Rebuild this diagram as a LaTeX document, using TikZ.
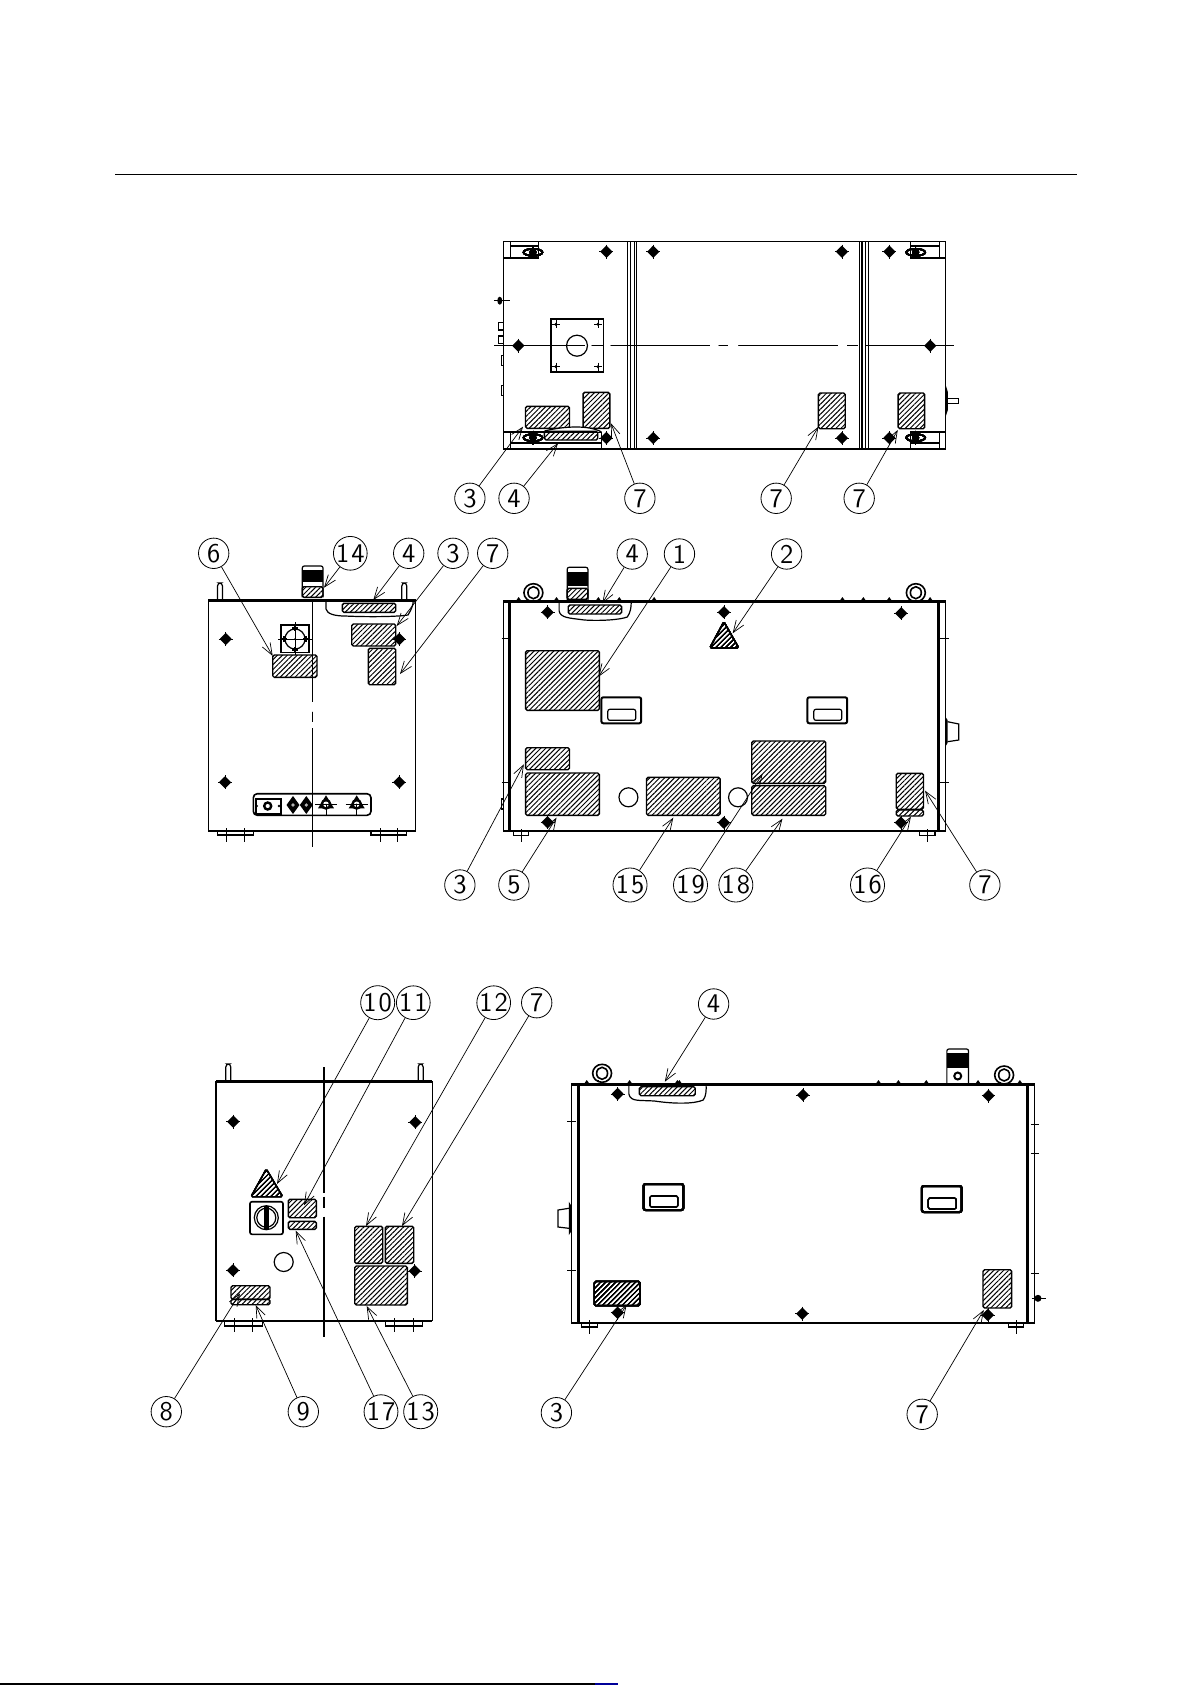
\documentclass[tikz,border=0pt]{standalone}
\usepackage{fontspec}
\usepackage{tikz}
\usetikzlibrary{arrows.meta}
\usetikzlibrary{patterns.meta}
\tikzset{plate/.style = {draw, line width = 0.7pt, rounded corners = 0.8, pattern = {Lines[angle = 45, distance = 1.75pt, line width = 0.5pt]}}}
\tikzset{callout/.style = {draw, circle, line width = 0.4pt, inner sep = 0, minimum size = 15.2,
    font = \sffamily\fontsize{13.5}{13.5}\selectfont\addfontfeature{FakeStretch=1.12}}}
\tikzset{lead/.style = {line width = 0.35pt, -{Straight Barb[length = 6pt, width = 4.5pt]}}}
\tikzset{body/.style = {line width = 0.6pt}}
\tikzset{heavy/.style = {line width = 1.5pt}}
\tikzset{fine/.style = {line width = 0.35pt}}
\newcommand{\hole}[2]{
  \fill [line join = round, draw, line width = 0.7pt] (#1-5.2,#2) -- (#1,#2-5.2) -- (#1+5.2,#2) -- (#1,#2+5.2) -- cycle;
  \draw [fine] (#1-7,#2) -- (#1+7,#2) (#1,#2-7) -- (#1,#2+7);
}
\newcommand{\eyebolt}[2]{
  \draw [line width = 0.8pt] (#1,#2) ellipse (9.5 and 9);
  \draw [line width = 0.8pt] (#1,#2) ellipse (5.5 and 6);
  \draw [fine] (#1-4,#2+7) -- (#1-4,#2+9) (#1+4,#2+7) -- (#1+4,#2+9);
}
\newcommand{\grip}[2]{
  \draw [line width = 1pt, rounded corners = 1] (#1,#2) rectangle ++(40,26);
  \draw [line width = 0.6pt, rounded corners = 1] (#1+6.5,#2+12) rectangle ++(28,11);
}
\newcommand{\eyenut}[2]{
  \draw [line width = 0.8pt] (#1,#2) ellipse (9.5 and 3.5);
  \fill (#1,#2) ellipse (3.5 and 4.5);
  \draw [body] (#1,#2-7) -- (#1,#2+7);
}
\newcommand{\gland}[2]{
  \fill (#1,#2-9) -- (#1+8,#2+4) -- (#1-8,#2+4) -- cycle;
  \fill (#1,#2) circle [radius = 5.5];
  \fill [white] (#1,#2) circle [radius = 2.8];
  \fill (#1,#2) circle [radius = 0.8];
  \draw [fine] (#1-11,#2) -- (#1+11,#2) (#1,#2) -- (#1,#2+11);
}
\newcommand{\valve}[2]{
  \fill (#1,#2-9) -- (#1+6.5,#2) -- (#1,#2+9) -- (#1-6.5,#2) -- cycle;
  \fill [white!70!black] (#1,#2) circle [radius = 1.8];
}
\begin{document}
\begin{tikzpicture}[x=0.5pt, y=-0.5pt]
  \useasboundingbox (0, 0) rectangle (1191, 1685);

  \draw [body] (115, 174.4) -- (1077, 174.4);
  \draw [line width = 0.8pt] (0, 1684) -- (595, 1684);
  \draw [line width = 0.8pt, blue!60!black] (595, 1684) -- (618, 1684);

  % top view
  \begin{scope}[x=0.4982pt, xshift=0.79pt]
  \draw [body] (503.5, 241.7) rectangle (947.5, 449);
  \draw [body] (503.5, 258) -- (539, 258) -- (539, 241.7);
  \draw [body] (511, 241.7) -- (511, 258) (511, 246) -- (539, 246);
  \draw [body] (503.5, 432) -- (602, 432) (511, 432) -- (511, 449);
  \draw [body] (511, 443) -- (602, 443) (602, 432) -- (602, 449);
  \draw [body] (947.5, 258) -- (912, 258) -- (912, 241.7);
  \draw [body] (941, 241.7) -- (941, 258) (941, 246) -- (912, 246);
  \draw [body] (947.5, 432) -- (912, 432) -- (912, 449);
  \draw [body] (941, 432) -- (941, 449) (941, 443) -- (912, 443);
  \foreach \x in {628.4, 631, 635, 637.4, 860.7, 863.5, 867, 869.7}
    \draw [body] (\x, 241.7) -- (\x, 449);
  \foreach \x/\y in {607/251.7, 654/251.7, 843.4/251.7, 891/251.7, 518.6/345.7, 932/345.7, 607/438, 654/438, 843.4/438, 891/438}
    \hole{\x}{\y}
  \foreach \x/\y in {533.3/252.3, 917.4/252.3, 533.3/437.7, 917.4/437.7}
    \eyenut{\x}{\y}
  \foreach \a/\b in {494.6/585.4, 592.5/603.3, 611.6/711, 720/729, 739.7/839, 848.5/859, 867/956}
    \draw [body] (\a, 345.7) -- (\b, 345.7);
  \draw [body] (551.3, 319) rectangle (604, 372);
  \draw [body] (577.5, 345.7) circle [radius = 10.5];
  \foreach \x/\y in {556.3/324.3, 598.6/324.3, 556.3/366.7, 598.6/366.7} {
    \fill (\x, \y) circle [radius = 1.6];
    \draw [fine] (\x-4, \y) -- (\x+4, \y) (\x, \y-4) -- (\x, \y+4);
  }
  \draw [plate] (525.8, 406.3) rectangle (570, 428.3);
  \draw [plate] (583.6, 392.3) rectangle (610.5, 428.3);
  \draw [plate] (819.8, 393) rectangle (846.7, 428.7);
  \draw [plate] (899.8, 393) rectangle (926.4, 428.7);
  \draw [body, fill = white] (544.8, 431) .. controls (565, 426) and (590, 425) .. (602, 432);
  \draw [plate] (544.8, 431.3) rectangle (598.3, 440);
  \fill (500, 300.7) ellipse (2.5 and 4);
  \draw [fine] (494, 300.7) -- (510, 300.7);
  \draw [body] (498.5, 322.7) rectangle (503.5, 330);
  \draw [body] (498.5, 336) rectangle (503.5, 343.3);
  \draw [fine] (501.4, 355.7) rectangle (503.5, 365);
  \draw [fine] (501.4, 385) rectangle (503.5, 395);
  \fill (947.5, 385) -- (949.7, 392) -- (949.7, 410) -- (947.5, 416.7) -- cycle;
  \draw [body] (949.7, 398.7) rectangle (960.5, 403.3);

  \foreach \nm/\txt/\x/\y/\tx/\ty in {a3/3/470/498.3/523.3/426.7, a4/4/514.3/498.3/558.4/443.3, a7/7/640.6/498.3/611.6/423.3, b7/7/777.4/498.3/819.8/426.7, c7/7/860.7/498.3/899.4/430} {
    \node [callout] (\nm) at (\x, \y) {\txt};
    \coordinate (\nm tip) at (\tx, \ty);
    \draw [lead] (\nm) -- (\nm tip);
  }
  \end{scope}

  % left side view
  \draw [body] (208.3, 600) rectangle (415.7, 830.7);
  \draw [heavy] (208.3, 600) -- (415.7, 600);
  \draw [line width = 1pt] (208.3, 830.7) -- (415.7, 830.7);
  \foreach \x in {220, 404.3}
    \draw [body, rounded corners = 1.5] (\x-2.5, 600) -- (\x-2.5, 583) -- (\x+2.5, 583) -- (\x+2.5, 600);
  \draw [body, rounded corners = 1] (302.3, 597.3) -- (302.3, 566) -- (323, 566) -- (323, 597.3);
  \fill (302.3, 570) rectangle (323, 581.7);
  \draw [plate] (302.3, 586.7) rectangle (323, 597.3);
  \foreach \x/\y in {225.7/639, 399.3/639, 225/782.3, 399.3/782.3}
    \hole{\x}{\y}
  \foreach \a/\b in {601.7/701.7, 711.7/721.7, 728.3/846.7}
    \draw [body] (312.3, \a) -- (312.3, \b);
  \draw [body] (281, 625) rectangle (309, 652.7);
  \draw [body] (295, 639) circle [radius = 10];
  \draw [fine] (278, 639) -- (312, 639) (295, 622) -- (295, 655);
  \fill (295, 639) circle [radius = 1];
  \foreach \x/\y in {295/628, 295/650, 284/639, 306/639}
    \draw [body] (\x-3, \y) -- (\x+3, \y) (\x, \y-3) -- (\x, \y+3);
  \draw [plate] (272.7, 655) rectangle (317, 677.3);
  \draw [body] (326, 601) -- (326, 609) .. controls (327, 614) and (335, 616) .. (345, 616) .. controls (365, 617) and (395, 617) .. (408, 615) .. controls (411, 610) and (413, 606) .. (413.3, 601);
  \draw [plate] (342.3, 603.3) rectangle (395.7, 612.3);
  \draw [plate] (351.7, 624) rectangle (395.7, 646);
  \draw [plate] (368.3, 648.3) rectangle (395.7, 684.7);
  \draw [line width = 0.8pt, rounded corners = 2] (253.3, 793.7) rectangle (371, 815.3);
  \draw [line width = 0.9pt] (255.7, 798.7) rectangle (280.7, 814);
  \draw [line width = 1.2pt] (267.7, 806) circle [radius = 3.5];
  \fill (256.7, 806) circle [radius = 1.4];
  \fill (279, 806) circle [radius = 1.4];
  \valve{293}{805}
  \valve{306.3}{805}
  \gland{326}{804.3}
  \gland{356.7}{804.3}
  \draw [body] (217.3, 830.7) rectangle (253.3, 835);
  \draw [body] (371, 830.7) rectangle (406.7, 835);
  \foreach \x in {226, 244, 380, 397.7}
    \draw [fine] (\x, 828) -- (\x, 841.7);

  \foreach \nm/\txt/\x/\y/\tx/\ty in {d6/6/213.7/553.3/272.7/656, d14/1\kern1pt 4/350.3/553.3/324/587.7, d4/4/408.7/553.3/373.3/600, d3/3/453/553.3/396.7/626, d7/7/492.7/553.3/400/674} {
    \node [callout] (\nm) at (\x, \y) {\txt};
    \coordinate (\nm tip) at (\tx, \ty);
    \draw [lead] (\nm) -- (\nm tip);
  }

  % front view
  \begin{scope}[x=0.4981pt, xshift=0.82pt]
  \draw [body] (503.8, 601) rectangle (947.3, 831);
  \draw [line width = 1.5pt] (510, 601) -- (510, 831) (940.8, 601) -- (940.8, 831);
  \draw [heavy] (503.8, 601) -- (947.3, 601);
  \draw [line width = 1pt] (503.8, 831) -- (947.3, 831);
  \eyebolt{533.8}{592.7}
  \eyebolt{917.7}{592.7}
  \foreach \x in {519, 557, 599, 620, 655, 844, 865, 891, 932}
    \fill (\x-2.5, 600.5) -- (\x, 597) -- (\x+2.5, 600.5) -- cycle;
  \draw [body, rounded corners = 1] (567.7, 600) -- (567.7, 567.3) -- (588.5, 567.3) -- (588.5, 600);
  \fill (567.7, 571.7) rectangle (588.5, 586);
  \draw [plate] (567.7, 588.3) rectangle (588.5, 599.3);
  \draw [body] (559.6, 602) -- (559.6, 611) .. controls (561, 618) and (570, 618) .. (585, 620) .. controls (600, 621) and (620, 620) .. (628, 617) .. controls (631, 613) and (632, 608) .. (632, 602);
  \draw [plate] (568.8, 605) rectangle (622.3, 614);
  \foreach \x/\y in {548/612.3, 725/612.3, 903/613.3, 548/822.3, 725/822.7, 902.7/822.7}
    \hole{\x}{\y}
  \draw [plate] (725, 621.7) -- (740, 648) -- (710.8, 648) -- cycle;
  \draw [plate] (526, 650.7) rectangle (600, 710.3);
  \grip{602}{697.3}
  \grip{808.8}{697.3}
  \draw [plate] (526, 747.7) rectangle (570, 769.7);
  \draw [plate] (526, 773) rectangle (600, 815.3);
  \draw [body] (629.2, 797.3) circle [radius = 9.5];
  \draw [body] (739.2, 797.3) circle [radius = 9.5];
  \draw [plate] (647.3, 777.3) rectangle (721.2, 815.3);
  \draw [plate] (753, 741) rectangle (827.3, 783.3);
  \draw [plate] (753, 785.7) rectangle (827.3, 815.3);
  \draw [plate] (898, 773.3) rectangle (925.4, 809.3);
  \draw [plate] (898, 810) rectangle (925.4, 816);
  \fill (947.3, 716.7) -- (949.5, 720) -- (949.5, 743) -- (947.3, 746.7) -- cycle;
  \draw [body] (949.5, 721.7) -- (960.8, 724) -- (960.8, 740) -- (949.5, 741.7);
  \foreach \y in {638.3, 782.3}
    \draw [fine] (502, \y) -- (509, \y) (942, \y) -- (951, \y);
  \draw [body] (501.5, 799) rectangle (503.8, 809);
  \draw [body] (513.8, 831.7) rectangle (529.2, 835.7);
  \draw [body] (921.5, 831.7) rectangle (937, 835.7);
  \draw [fine] (521.5, 829) -- (521.5, 842) (929, 829) -- (929, 842);

  \foreach \nm/\txt/\x/\y/\tx/\ty in {e4/4/633/554/603/603.3, e1/1/680.4/554/599.2/676.7, e2/2/788/554/733.8/633.3, e3/3/460/885/524.2/764.3, e5/5/514.2/885/557/817.7, e15/1\kern1pt 5/630.8/885/674.2/817.7, e19/1\kern1pt 9/691.5/885/763.8/774, e18/1\kern1pt 8/737/885/783.8/818.7, e16/1\kern1pt 6/869.2/885/912.7/816.7, e7/7/987/885/927/790.7} {
    \node [callout] (\nm) at (\x, \y) {\txt};
    \coordinate (\nm tip) at (\tx, \ty);
    \draw [lead] (\nm) -- (\nm tip);
  }
  \end{scope}

  % right side view
  \draw [body] (216, 1081.7) rectangle (432.3, 1320.7);
  \draw [heavy] (216, 1081.7) -- (432.3, 1081.7);
  \draw [line width = 1pt] (216, 1320.7) -- (432.3, 1320.7);
  \foreach \x in {228.3, 420.7}
    \draw [body, rounded corners = 1.5] (\x-2.5, 1081.7) -- (\x-2.5, 1064) -- (\x+2.5, 1064) -- (\x+2.5, 1081.7);
  \foreach \a/\b in {1067.3/1193.3, 1196.7/1208.3, 1216.7/1337.3}
    \draw [body] (324, \a) -- (324, \b);
  \foreach \x/\y in {233.3/1121.7, 415.3/1122.3, 233/1270.3, 414.7/1271}
    \hole{\x}{\y}
  \draw [plate] (266.3, 1169) -- (282.7, 1196.7) -- (251, 1196.7) -- cycle;
  \draw [line width = 0.8pt, rounded corners = 1] (250, 1201.7) rectangle (283, 1234.3);
  \draw [body] (266.3, 1217.7) circle [radius = 12];
  \draw [body] (266.3, 1217.7) circle [radius = 9.5];
  \fill (264, 1205.5) rectangle (268.6, 1230);
  \draw [plate] (288.3, 1199.3) rectangle (316.3, 1217.7);
  \draw [plate] (288.3, 1221.3) rectangle (316.3, 1229.3);
  \draw [body] (283.7, 1262) circle [radius = 9.5];
  \draw [plate] (231, 1285.7) rectangle (270, 1299.3);
  \draw [plate] (231, 1299.3) rectangle (270, 1304.7);
  \draw [plate] (354.7, 1226.3) rectangle (382.7, 1263.3);
  \draw [plate] (385.3, 1226.3) rectangle (413.7, 1263.3);
  \draw [plate] (354.7, 1266) rectangle (407.3, 1305);
  \draw [body] (224.3, 1320.7) rectangle (262.3, 1326);
  \draw [body] (385.3, 1320.7) rectangle (422.7, 1326);
  \foreach \x in {234, 252.3, 394.7, 413.3}
    \draw [fine] (\x, 1318) -- (\x, 1331.7);

  \foreach \nm/\txt/\x/\y/\tx/\ty in {f10/1\kern1pt 0/377.7/1002.7/277/1184, f11/1\kern1pt 1/413.3/1002.7/304/1205.3, f12/1\kern1pt 2/493.7/1002.7/366/1226, f7/7/536.7/1002.7/402/1226, f8/8/166.3/1411.7/240/1293.3, f9/9/303.3/1411.7/255.7/1305, f17/1\kern1pt 7/381/1411.7/295.7/1230.7, f13/1\kern1pt 3/420.7/1411.7/366.7/1306} {
    \node [callout] (\nm) at (\x, \y) {\txt};
    \coordinate (\nm tip) at (\tx, \ty);
    \draw [lead] (\nm) -- (\nm tip);
  }

  % rear view
  \begin{scope}[x=0.4978pt, xshift=1.17pt]
  \draw [body] (571.5, 1084) rectangle (1036.8, 1322.7);
  \draw [line width = 1.5pt] (578.3, 1084) -- (578.3, 1322.7) (1030, 1084) -- (1030, 1322.7);
  \draw [heavy] (571.5, 1084) -- (1036.8, 1084);
  \draw [line width = 1pt] (571.5, 1322.7) -- (1036.8, 1322.7);
  \eyebolt{602.4}{1073.3}
  \eyebolt{1006.2}{1075}
  \foreach \x in {587, 630, 680, 678, 880, 900, 928, 980, 1022}
    \fill (\x-2.5, 1083.5) -- (\x, 1080) -- (\x+2.5, 1083.5) -- cycle;
  \draw [body, rounded corners = 1] (948.7, 1083) -- (948.7, 1049) -- (970.5, 1049) -- (970.5, 1083);
  \fill (948.7, 1053.3) rectangle (970.5, 1068.3);
  \draw [line width = 1pt] (959.6, 1076) circle [radius = 3.5];
  \draw [body] (629.3, 1085) -- (629.3, 1094) .. controls (631, 1102) and (640, 1100) .. (655, 1101) .. controls (675, 1104) and (695, 1104) .. (704, 1100) .. controls (707, 1096) and (707, 1090) .. (706.9, 1085);
  \draw [plate] (639.9, 1086.7) rectangle (696, 1095.7);
  \foreach \x/\y in {618/1094, 804.2/1095, 990.5/1095.7, 618/1312.7, 803.5/1313.7, 989.9/1315}
    \hole{\x}{\y}
  \grip{644}{1184}
  \grip{923.5}{1186}
  \draw [plate] (594.5, 1281.4) rectangle (640.6, 1305.6);
  \draw [plate] (985, 1269.7) rectangle (1013.7, 1308);
  \fill (569, 1201.7) -- (571, 1205) -- (571, 1232) -- (569, 1235) -- cycle;
  \draw [body] (569, 1208.3) -- (558.2, 1210) -- (558.2, 1227) -- (569, 1228.3);
  \fill (1040.2, 1298.3) circle [radius = 3.5];
  \draw [fine] (1034, 1298.3) -- (1048, 1298.3);
  \foreach \y in {1121.7, 1270.7}
    \draw [fine] (567.4, \y) -- (576, \y);
  \foreach \y in {1124, 1153, 1273}
    \draw [fine] (1033, \y) -- (1041, \y);
  \draw [body] (581.7, 1322.7) rectangle (598, 1327);
  \draw [body] (1010.3, 1322.7) rectangle (1026, 1327);
  \draw [fine] (589.5, 1320) -- (589.5, 1334) (1018.4, 1320) -- (1018.4, 1334);

  \foreach \nm/\txt/\x/\y/\tx/\ty in {g4/4/714.4/1004/665.4/1081.7, g3/3/556.5/1412.7/627/1305, g7/7/923.9/1414.3/985.8/1310} {
    \node [callout] (\nm) at (\x, \y) {\txt};
    \coordinate (\nm tip) at (\tx, \ty);
    \draw [lead] (\nm) -- (\nm tip);
  }
  \end{scope}
\end{tikzpicture}
\end{document}
